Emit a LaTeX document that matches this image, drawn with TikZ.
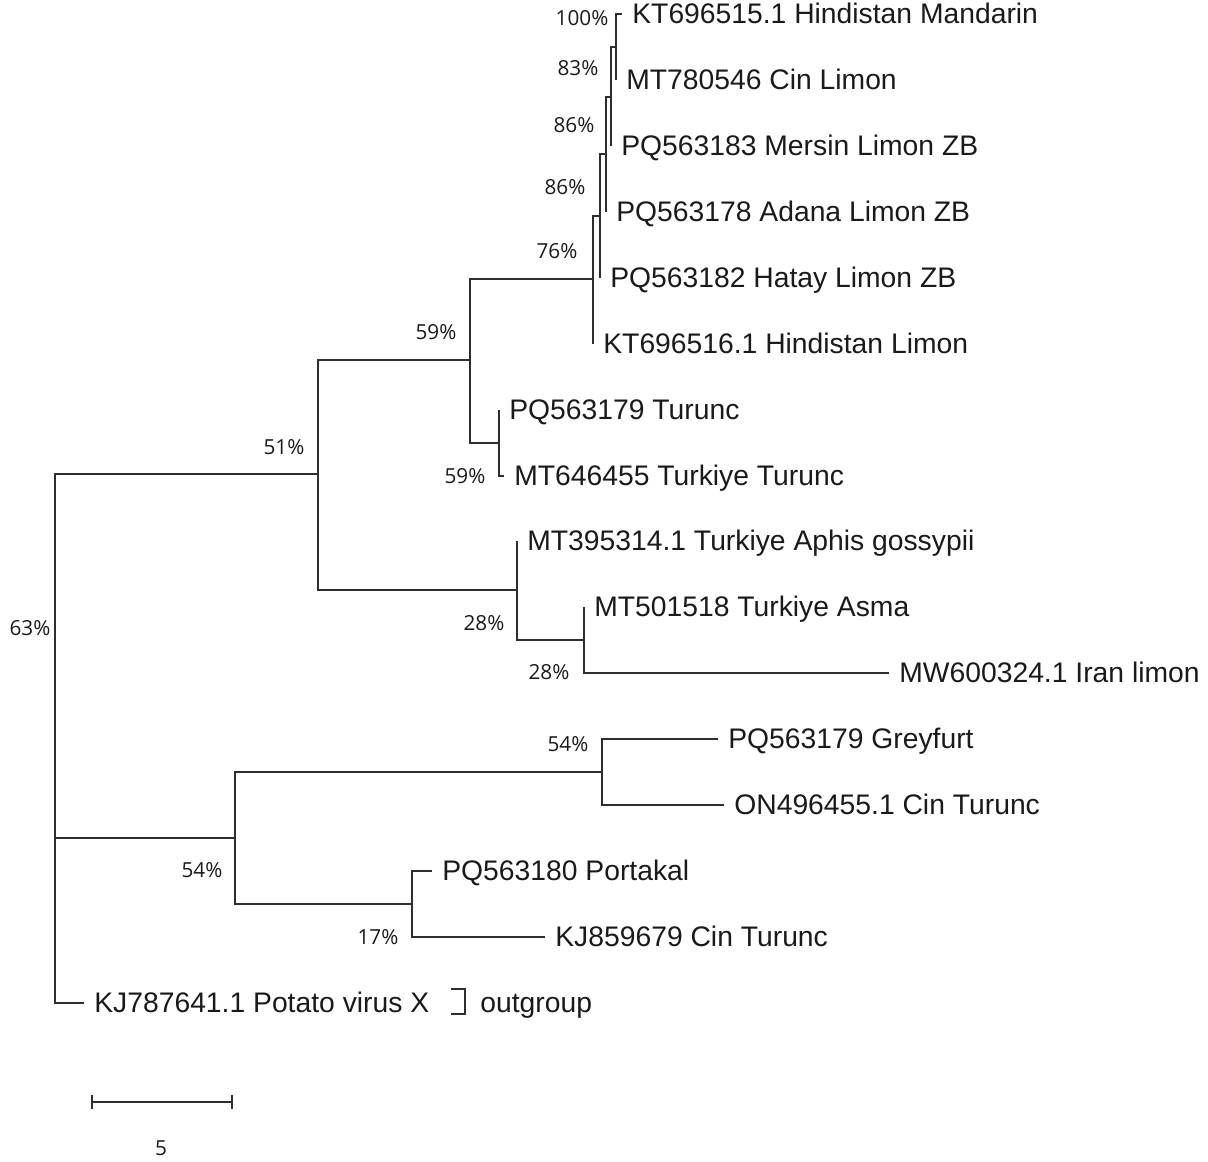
\documentclass[tikz,border=0pt]{standalone}
\usepackage{fontspec}
\setmainfont{Liberation Sans}
\newfontfamily\pctfont{Open Sans}
\usetikzlibrary{arrows.meta}
\definecolor{cink}{HTML}{1A1A1A}
\definecolor{cline}{HTML}{2E2E2E}

\begin{document}
\begin{tikzpicture}[
  x=0.02cm, y=-0.02cm,
  leaf/.style={anchor=west, text=cink, inner xsep=0.2cm, inner ysep=0pt,
               font=\fontsize{16.1pt}{19pt}\selectfont, text height=12pt, text depth=0.7pt},
  pct/.style={text=cink, inner sep=0pt, font=\pctfont\fontsize{11.8pt}{14pt}\selectfont},
  branch/.style={draw=cline, line width=0.95pt},
  scalebar/.style={branch, {Bar[width=8.5pt]}-{Bar[width=8.5pt]}}
]
\useasboundingbox (0,0) rectangle (1208,1162);

% inner nodes of the tree
\coordinate (nA)   at (616,47);
\coordinate (nB)   at (611,97);
\coordinate (nC)   at (606,154);
\coordinate (nD)   at (600,216);
\coordinate (nE)   at (593,279);
\coordinate (nF)   at (470,360);
\coordinate (nG)   at (499,443);
\coordinate (nH)   at (318,474);
\coordinate (nI)   at (517,590);
\coordinate (nJ)   at (584,640);
\coordinate (nK)   at (235,838);
\coordinate (nL)   at (602,772);
\coordinate (nM)   at (412,904);
\coordinate (root) at (55,656);

% leaves
\node[leaf] (kt15)  at (622,14)   {KT696515.1 Hindistan Mandarin};
\node[leaf] (mt78)  at (616,80)   {MT780546 Cin Limon};
\node[leaf] (pq83)  at (611,146)  {PQ563183 Mersin Limon ZB};
\node[leaf] (pq78)  at (606,212)  {PQ563178 Adana Limon ZB};
\node[leaf] (pq82)  at (600,278)  {PQ563182 Hatay Limon ZB};
\node[leaf] (kt16)  at (593,344)  {KT696516.1 Hindistan Limon};
\node[leaf] (pq79t) at (499,410)  {PQ563179 Turunc};
\node[leaf] (mt64)  at (504,476)  {MT646455 Turkiye Turunc};
\node[leaf] (mt39)  at (517,541)  {MT395314.1 Turkiye Aphis gossypii};
\node[leaf] (mt50)  at (584,607)  {MT501518 Turkiye Asma};
\node[leaf] (mw60)  at (889,673)  {MW600324.1 Iran limon};
\node[leaf] (pq79g) at (718,739)  {PQ563179 Greyfurt};
\node[leaf] (on49)  at (724,805)  {ON496455.1 Cin Turunc};
\node[leaf] (pq80)  at (432,871)  {PQ563180 Portakal};
\node[leaf] (kj85)  at (545,937)  {KJ859679 Cin Turunc};
\node[leaf] (kj78)  at (84,1003)  {KJ787641.1 Potato virus X};

% branches
\draw[branch] (nA) |- (kt15.west);
\draw[branch] (nA) |- (mt78.west);
\draw[branch] (nB) |- (nA);
\draw[branch] (nB) |- (pq83.west);
\draw[branch] (nC) |- (nB);
\draw[branch] (nC) |- (pq78.west);
\draw[branch] (nD) |- (nC);
\draw[branch] (nD) |- (pq82.west);
\draw[branch] (nE) |- (nD);
\draw[branch] (nE) |- (kt16.west);
\draw[branch] (nG) |- (pq79t.west);
\draw[branch] (nG) |- (mt64.west);
\draw[branch] (nF) |- (nE);
\draw[branch] (nF) |- (nG);
\draw[branch] (nJ) |- (mt50.west);
\draw[branch] (nJ) |- (mw60.west);
\draw[branch] (nI) |- (mt39.west);
\draw[branch] (nI) |- (nJ);
\draw[branch] (nH) |- (nF);
\draw[branch] (nH) |- (nI);
\draw[branch] (nL) |- (pq79g.west);
\draw[branch] (nL) |- (on49.west);
\draw[branch] (nM) |- (pq80.west);
\draw[branch] (nM) |- (kj85.west);
\draw[branch] (nK) |- (nL);
\draw[branch] (nK) |- (nM);
\draw[branch] (root) |- (nH);
\draw[branch] (root) |- (nK);
\draw[branch] (root) |- (kj78.west);

% bootstrap values
\node[pct] (bA)   at (582,18)  {100\%};
\node[pct] (bB)   at (578,68)  {83\%};
\node[pct] (bC)   at (574,125) {86\%};
\node[pct] (bD)   at (565,187) {86\%};
\node[pct] (bE)   at (557,251) {76\%};
\node[pct] (bF)   at (436,332) {59\%};
\node[pct] (bG)   at (465,476) {59\%};
\node[pct] (bH)   at (284,447) {51\%};
\node[pct] (bI)   at (484,623) {28\%};
\node[pct] (bJ)   at (549,672) {28\%};
\node[pct] (broot) at (30,628) {63\%};
\node[pct] (bL)   at (568,744) {54\%};
\node[pct] (bK)   at (202,870) {54\%};
\node[pct] (bM)   at (378,937) {17\%};

% outgroup mark
\draw[branch] (451,989) -| (465,1014) -- (451,1014);
\node[leaf, inner xsep=0pt] (og) at (480,1003) {outgroup};

% scale bar
\coordinate (sbL) at (91,1102);
\coordinate (sbR) at (233,1102);
\draw[scalebar] (sbL) -- (sbR);
\node[pct] (sbtxt) at (161,1148) {5};
\end{tikzpicture}
\end{document}
